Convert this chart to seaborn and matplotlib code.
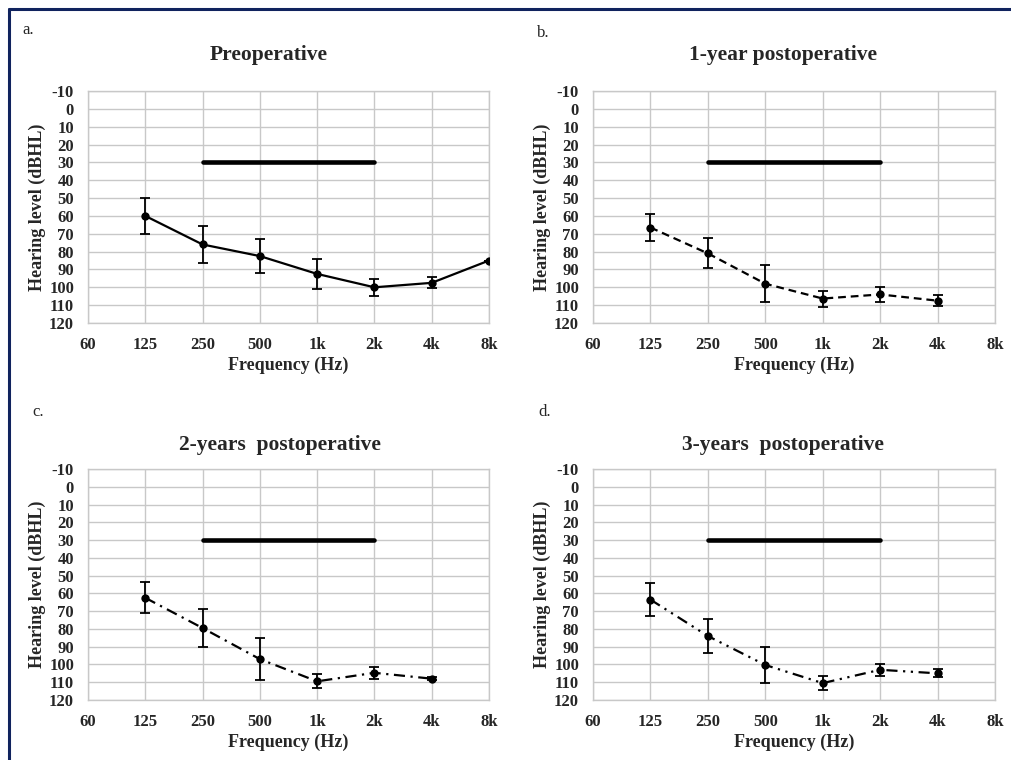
import numpy as np
import pandas as pd
import matplotlib
matplotlib.use("Agg")
import matplotlib.pyplot as plt
from matplotlib.lines import Line2D
import seaborn as sns

# frequency axis (octaves)
tick_freqs = [62.5, 125, 250, 500, 1000, 2000, 4000, 8000]
tick_labels = ["60", "125", "250", "500", "1k", "2k", "4k", "8k"]

# panel a: preoperative
freq_pre = [125, 250, 500, 1000, 2000, 4000, 8000]
mean_pre = [60, 76, 82.5, 92.5, 100, 97.5, 85]
sd_pre = [10, 10.3, 9.7, 8.2, 4.6, 3.0, 0]

# panel b: 1-year postoperative
freq_1y = [125, 250, 500, 1000, 2000, 4000]
mean_1y = [66.5, 81, 98, 106.3, 104, 107.5]
sd_1y = [7.5, 8.4, 10.5, 4.5, 4.3, 3.0]

# panel c: 2-years postoperative
freq_2y = [125, 250, 500, 1000, 2000, 4000]
mean_2y = [62.5, 79.5, 97, 109.5, 104.7, 108]
sd_2y = [8.7, 10.5, 11.7, 4.0, 3.3, 0.8]

# panel d: 3-years postoperative
freq_3y = [125, 250, 500, 1000, 2000, 4000]
mean_3y = [63.5, 84, 100.3, 110.5, 103, 105]
sd_3y = [9.1, 9.7, 10.3, 3.8, 3.5, 2.3]

# reference bar at 30 dB from 250 Hz to 2 kHz
ref_freq = [250, 2000]
ref_level = [30, 30]

panels = [
    ("a.", "Preoperative", freq_pre, mean_pre, sd_pre, (None, None)),
    ("b.", "1-year postoperative", freq_1y, mean_1y, sd_1y, (3.5, 2.2)),
    ("c.", "2-years  postoperative", freq_2y, mean_2y, sd_2y, (5, 2.5, 1, 2.5)),
    ("d.", "3-years  postoperative", freq_3y, mean_3y, sd_3y, (5, 2.5, 1, 2.5, 1, 2.5)),
]

sns.set_theme(style="white")
plt.rcParams["font.family"] = ["Liberation Serif", "DejaVu Serif"]
plt.rcParams["axes.unicode_minus"] = False

W, H = 1011, 760
fig = plt.figure(figsize=(W / 100, H / 100), dpi=100)

# axes boxes in pixels: left, top, right, bottom
boxes = [(88, 91, 489, 323), (593, 91, 995, 323), (88, 469, 489, 700), (593, 469, 995, 700)]
titles_xy = [(269, 55), (783, 55), (280, 445), (783, 445)]
labels_xy = [(22, 30), (537, 33), (32, 412), (538, 412)]

grid_col = "#C8C8C8"
txt_col = "#262626"

for (lab, title, fr, mu, sd, dash), box, txy, lxy in zip(panels, boxes, titles_xy, labels_xy):
    l, t, r, b = box
    ax = fig.add_axes([l / W, 1 - b / H, (r - l) / W, (b - t) / H])
    ax.set_xscale("log", base=2)
    ax.set_xlim(62.5, 8000)
    ax.set_ylim(120, -10)
    ax.set_xticks(tick_freqs)
    ax.set_xticklabels(tick_labels)
    ax.set_yticks(np.arange(-10, 121, 10))
    ax.minorticks_off()
    ax.grid(True, color=grid_col, lw=1.0)
    ax.set_axisbelow(True)
    for s in ax.spines.values():
        s.set_color(grid_col)
        s.set_linewidth(1.0)
    ax.tick_params(axis="both", length=0, labelsize=12, pad=10, colors=txt_col)
    for tl in ax.get_yticklabels() + ax.get_xticklabels():
        tl.set_fontweight("bold")

    ax.plot(ref_freq, ref_level, color="black", lw=3.3, solid_capstyle="round", zorder=3)

    df = pd.DataFrame({"freq": fr, "level": mu})
    sns.lineplot(data=df, x="freq", y="level", ax=ax, color="black", lw=1.6,
                 marker="o", markersize=6, markeredgewidth=0, zorder=4)
    if dash[0] is not None:
        ax.lines[-1].set_dashes(dash)
    ax.errorbar(fr, mu, yerr=sd, fmt="none", ecolor="black", elinewidth=1.3,
                capsize=3.5, capthick=1.3, zorder=4)

    ax.set_xlabel("Frequency (Hz)", fontsize=13, fontweight="bold", labelpad=3, color=txt_col)
    ax.set_ylabel("Hearing level (dBHL)", fontsize=13, fontweight="bold", labelpad=2, color=txt_col)

    fig.text(txy[0] / W, 1 - txy[1] / H, title, ha="center", va="center",
             fontsize=15.5, fontweight="bold", color=txt_col)
    fig.text(lxy[0] / W, 1 - lxy[1] / H, lab, ha="left", va="center", fontsize=12, color=txt_col)

# outer navy frame (top and left edges visible)
navy = "#10235E"
fig.add_artist(Line2D([9 / W, 1.0], [1 - 8.5 / H, 1 - 8.5 / H], color=navy, lw=2.2,
                      transform=fig.transFigure))
fig.add_artist(Line2D([9 / W, 9 / W], [0.0, 1 - 8.5 / H], color=navy, lw=2.2,
                      transform=fig.transFigure))

fig.savefig("out.png", dpi=100)
